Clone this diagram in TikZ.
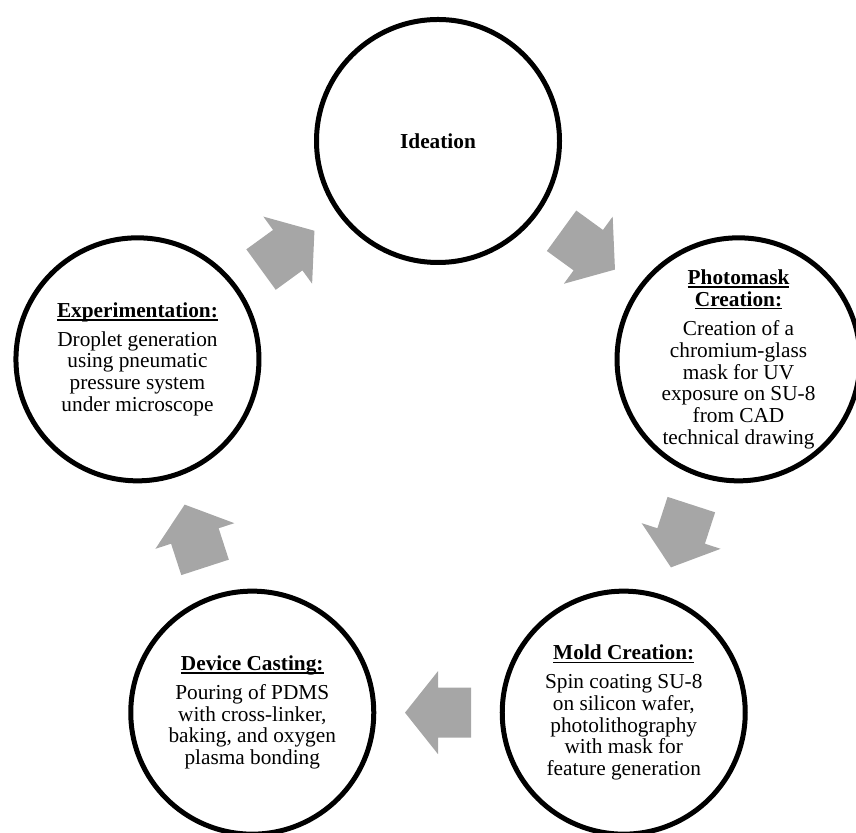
\documentclass[tikz,border=0pt]{standalone}
\usepackage{fontspec}
\setmainfont{Liberation Serif}
\usetikzlibrary{calc}
\definecolor{arrowgray}{RGB}{166,166,166}
\newcommand{\ultitle}[1]{\setbox0\hbox{\bfseries #1}\rlap{\rule[-3.1pt]{\wd0}{1.5pt}}\box0}
\newcommand{\cyclearrow}[3]{\fill[cyc, shift={($(#1.center)!0.5!(#2.center)$)}, rotate=#3] (-33,25) -- (0,25) -- (0,41.5) -- (33,0) -- (0,-41.5) -- (0,-25) -- (-33,-25) -- cycle;}
\begin{document}
\begin{tikzpicture}[x=1pt,y=1pt,
  stage/.style={circle, draw=black, line width=5pt, fill=white, minimum size=243pt, inner sep=0pt},
  stagetext/.style={align=center, font=\fontsize{21.3}{21.7}\selectfont, inner sep=0pt},
  cyc/.style={fill=arrowgray}]
\useasboundingbox (0,0) rectangle (856,832);
\clip (0,0) rectangle (856,832);
\coordinate (c) at (438,375);
\node[stage] (ide) at ($(c)+(90:316)$) {};
\node[stage] (pho) at ($(c)+(18:316)$) {};
\node[stage] (mol) at ($(c)+(-54:316)$) {};
\node[stage] (dev) at ($(c)+(-126:316)$) {};
\node[stage] (exp) at ($(c)+(162:316)$) {};
\node[stagetext] (idet) at (ide.center) {\bfseries Ideation};
\node[stagetext] (phot) at (pho.center) {\ultitle{Photomask}\\ \ultitle{Creation:}\\[8pt] Creation of a\\ chromium-glass\\ mask for UV\\ exposure on SU-8\\ from CAD\\ technical drawing};
\node[stagetext] (molt) at (mol.center) {\ultitle{Mold Creation:}\\[7pt] Spin coating SU-8\\ on silicon wafer,\\ photolithography\\ with mask for\\ feature generation};
\node[stagetext] (devt) at (dev.center) {\ultitle{Device Casting:}\\[7pt] Pouring of PDMS\\ with cross-linker,\\ baking, and oxygen\\ plasma bonding};
\node[stagetext] (expt) at (exp.center) {\ultitle{Experimentation:}\\[7pt] Droplet generation\\ using pneumatic\\ pressure system\\ under microscope};
\cyclearrow{ide}{pho}{-36}
\cyclearrow{pho}{mol}{-108}
\cyclearrow{mol}{dev}{180}
\cyclearrow{dev}{exp}{108}
\cyclearrow{exp}{ide}{36}
\end{tikzpicture}
\end{document}
